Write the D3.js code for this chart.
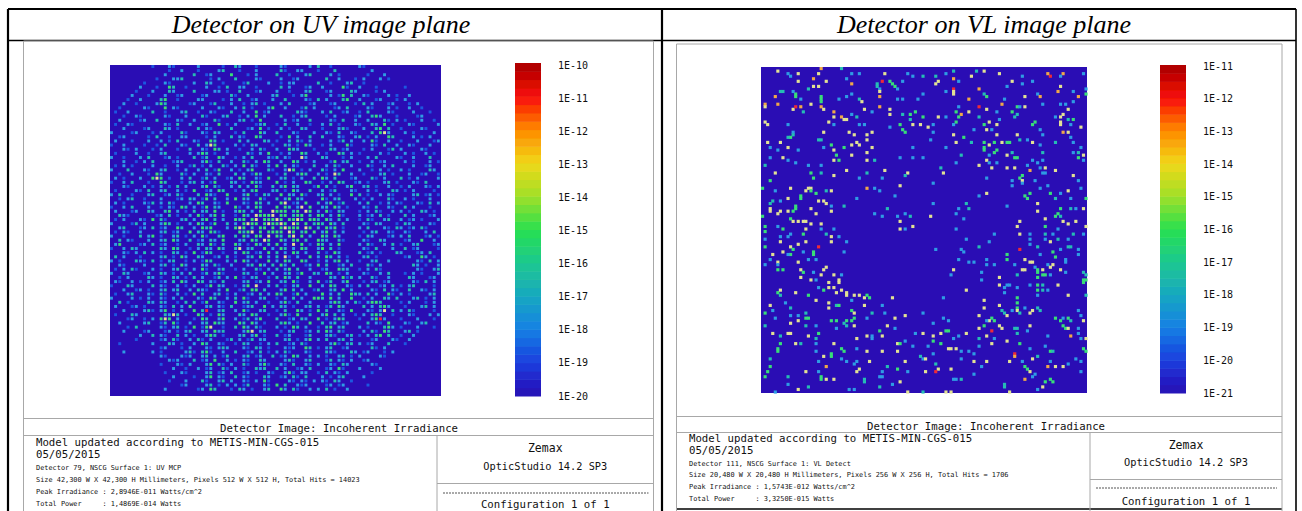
<!DOCTYPE html>
<html><head><meta charset="utf-8">
<script src="https://cdn.jsdelivr.net/npm/d3@7/dist/d3.min.js"></script>
<style>html,body{margin:0;padding:0;background:#fff}svg{display:block}</style></head>
<body><svg id="c" width="1302" height="511"></svg>
<script>
const panelTitles = ["Detector on UV image plane", "Detector on VL image plane"];
const uvTicks = ["1E-10","1E-11","1E-12","1E-13","1E-14","1E-15","1E-16","1E-17","1E-18","1E-19","1E-20"];
const vlTicks = ["1E-11","1E-12","1E-13","1E-14","1E-15","1E-16","1E-17","1E-18","1E-19","1E-20","1E-21"];
const uvFooter = ["Detector 79, NSCG Surface 1: UV MCP","Size 42,300 W X 42,300 H Millimeters, Pixels 512 W X 512 H, Total Hits = 14023","Peak Irradiance : 2,8946E-011 Watts/cm^2","Total Power     : 1,4869E-014 Watts"];
const vlFooter = ["Detector 111, NSCG Surface 1: VL Detect","Size 20,480 W X 20,480 H Millimeters, Pixels 256 W X 256 H, Total Hits = 1706","Peak Irradiance : 1,5743E-012 Watts/cm^2","Total Power     : 3,3250E-015 Watts"];
// colour of each class of hit
const levelColor = {b:"#1f58e0",c:"#2f9ce4",t:"#26bdb4",g:"#38de78",y:"#e2e294",o:"#f0a848",r:"#ee2c38"};
const rampStops = [0,.1,.2,.3,.4,.5,.6,.7,.8,.9,1];
const rampColors = ["#2a0cb4","#1a3ede","#1680e4","#18a8c0","#1cc890","#28e050","#a0e028","#f0d818","#ff8a00","#f81008","#a80000"];
// VL detector: hits estimated bin by bin on a 128 x 128 reading grid (col,row,class)
const vlTopLeft = "6,1,y 10,2,c 11,3,c 14,2,y 14,5,y 23,0,o 31,0,t 33,4,c 35,2,c 38,2,c 20,4,o 25,5,y 22,2,y 35,6,o 47,5,r 48,2,y 45,6,t 45,7,t 46,8,c 50,5,g 51,6,g 52,7,g 55,5,c 53,8,c 57,2,c 59,3,c 63,3,t 63,10,c 18,8,t 20,7,y 22,7,y 7,9,t 8,9,t 5,11,o 13,11,g 13,10,g 12,9,c 23,11,g 23,12,g 23,13,g 15,12,c 1,14,o 1,15,y 6,14,o 12,16,y 13,15,r 15,15,o 16,17,t 19,14,y 23,15,o 24,16,y 30,12,c 33,11,c 35,10,c 38,12,t 39,13,y 46,9,y 46,11,o 46,15,o 40,16,y 43,17,c 50,16,y 50,18,y 53,12,c 55,12,c 61,12,c 28,17,o 28,19,y 26,21,y 31,19,o 32,20,y 33,20,y 35,18,c 37,19,t 28,22,c 38,22,c 40,22,c 10,22,c 1,21,y 2,22,y 55,18,t 58,18,g 60,17,g 63,19,g 58,20,t 62,22,y 54,22,g 55,24,g 56,25,g 50,23,c 59,22,y 12,25,c 11,27,g 10,27,t 12,26,t 24,25,y 34,25,y 36,26,y 41,26,y 43,25,y 2,29,y 7,29,y 22,28,t 23,28,t 27,30,g 32,31,g 35,30,y 37,29,y 38,30,y 41,28,y 24,31,c 43,31,y 3,31,c 6,32,c 10,31,y 14,32,c 28,32,y 41,33,y 59,31,c 35,34,y 29,34,g 30,36,g 28,36,y 3,35,c 8,35,y 10,36,c 13,37,c 41,36,y 44,36,t 54,35,c 59,35,c 63,35,c 18,38,c 23,38,c 1,38,t 5,41,y 19,41,g 20,43,g 23,41,t 28,42,y 33,40,y 41,41,t 48,40,y 57,41,y 56,42,t 3,44,g 38,43,c 47,43,c 0,47,g 18,47,y 19,47,y 17,48,y 19,48,g 21,49,g 15,50,g 15,51,g 11,47,y 5,48,c 25,48,t 27,48,y 41,47,o 44,47,c 46,48,c 54,46,y 52,50,c 10,51,y 37,51,c 22,52,y 24,52,y 25,53,y 4,52,t 7,52,c 3,53,t 3,55,y 3,56,y 6,57,y 7,56,y 13,54,g 13,55,g 12,56,g 10,56,y 19,55,y 27,54,c 27,56,y 32,54,t 49,55,t 44,57,c 47,58,c 21,57,y 11,59,g 14,60,y 16,60,y 17,60,y 19,61,y 12,60,y 0,58,g 23,61,y 1,62,g 6,62,c 8,63,g 23,63,c 28,63,c 17,63,y 53,58,c 56,57,c 58,58,t 54,60,y 59,62,y 56,63,c 54,63,y";
const vlTopRight = "68,3,t 69,5,y 68,6,y 72,2,c 75,1,t 84,1,t 87,1,y 82,3,y 75,4,o 77,5,c 75,8,r 75,9,y 75,10,y 72,9,c 81,12,o 85,8,o 87,10,t 88,11,g 93,2,y 98,5,y 102,3,c 96,7,c 106,5,c 102,6,c 113,3,r 112,2,o 118,2,o 117,3,c 117,7,y 116,9,o 126,2,c 122,9,c 124,11,o 127,10,g 127,8,c 108,10,c 109,11,o 103,11,y 95,12,c 110,14,c 85,15,r 94,14,o 77,15,c 76,17,g 78,18,o 81,17,y 77,19,g 76,21,g 75,22,c 100,15,g 101,15,c 103,15,y 98,17,g 100,18,t 92,17,c 88,16,y 85,19,t 69,19,y 72,19,c 67,22,c 65,23,y 67,25,c 66,28,c 75,26,y 79,27,g 82,29,t 76,29,y 72,31,c 78,34,t 87,22,g 89,21,y 92,22,y 88,24,y 90,24,c 83,24,c 92,26,y 99,19,t 93,20,c 100,26,y 106,22,g 107,21,g 109,24,c 110,26,c 87,29,g 87,31,g 87,32,g 91,29,g 89,30,y 94,29,y 96,29,g 97,29,g 101,28,t 104,28,c 106,29,y 109,30,c 92,32,g 91,33,g 96,34,y 98,33,t 99,35,g 100,35,g 89,34,c 88,36,y 89,37,c 92,37,c 90,39,y 85,38,y 76,37,c 104,38,c 106,36,c 108,37,c 110,36,c 110,33,t 115,29,t 96,39,y 99,39,y 105,40,o 109,39,c 111,39,y 110,41,c 111,41,c 102,42,g 101,43,g 102,44,y 98,44,c 102,45,c 98,46,c 88,43,c 115,40,y 122,42,y 124,44,c 70,39,t 71,41,y 67,45,c 88,49,y 85,50,c 103,50,g 105,49,g 104,51,g 113,49,g 115,51,t 112,46,c 107,44,c 109,47,c 120,48,y 125,47,c 117,49,c 127,51,g 108,53,y 121,51,c 96,54,c 80,53,t 77,55,c 81,55,t 108,56,y 67,53,c 66,58,y 76,57,c 79,59,c 117,55,g 116,57,g 115,58,g 117,58,t 118,60,y 121,55,t 123,55,c 126,55,y 123,60,y 111,59,y 101,60,y 100,62,y 120,61,y 111,62,g 116,63,c 127,62,y 76,63,c 118,18,y 117,19,y 117,21,y 117,22,y 118,25,o 120,25,y 120,20,t 122,20,g 120,16,y 122,13,c 119,14,c 117,14,c 115,19,c 121,22,c 125,23,y 121,27,c 125,31,c 124,33,t 122,33,c 126,34,y 124,35,g 126,36,c 122,29,c";
const vlBottomLeft = "1,64,g 1,67,c 1,70,g 7,68,y 7,66,c 10,66,c 11,65,c 16,65,g 11,70,y 14,69,y 12,71,g 11,73,g 8,72,y 10,73,c 4,73,y 17,68,y 22,70,r 20,72,g 20,73,g 16,72,c 25,65,t 27,66,y 27,68,y 30,66,c 33,68,c 32,72,c 14,76,y 18,75,c 21,75,c 3,75,c 6,76,y 6,77,c 1,77,c 6,79,g 8,79,g 15,79,y 16,80,g 15,82,y 20,80,c 23,81,y 24,79,y 25,78,y 19,83,y 21,83,c 28,81,y 31,81,c 30,83,y 30,84,y 26,84,y 24,87,g 26,86,y 28,86,y 22,86,c 29,88,y 31,87,y 33,88,y 33,89,y 6,88,g 7,87,y 7,89,t 13,88,y 18,89,g 21,91,y 35,91,c 36,89,y 38,89,y 40,90,y 41,89,g 42,90,g 40,93,y 51,90,y 3,93,y 9,92,c 11,94,t 26,92,y 26,94,y 29,93,t 30,93,g 1,96,g 4,95,c 17,96,t 35,95,g 36,96,y 43,96,t 41,98,c 48,96,c 47,93,c 56,97,y 63,96,c 11,97,c 14,97,c 14,99,y 17,98,g 18,98,g 5,98,c 27,99,g 29,99,g 33,99,g 35,99,g 36,98,g 32,100,t 33,101,t 36,101,y 52,98,y 49,101,y 1,101,t 11,100,y 17,101,t 21,101,c 29,102,c 4,104,y 10,104,y 11,104,y 7,105,t 18,105,y 22,104,g 21,106,t 37,106,y 41,105,y 43,105,c 43,106,c 47,105,y 46,103,g 52,102,c 60,104,c 63,104,y 7,108,g 6,110,g 6,111,g 13,108,y 15,108,t 21,108,c 28,108,y 53,108,y 54,108,g 56,107,c 59,109,c 53,111,y 31,110,g 32,111,g 21,111,c 37,110,c 41,111,y 47,111,y 62,113,t 63,114,c 24,113,y 27,112,g 27,113,g 3,114,t 22,115,c 31,114,c 33,115,c 37,115,c 42,115,y 36,116,c 25,117,o 49,117,t 53,118,g 56,115,y 3,117,g 2,119,g 17,119,y 22,119,c 37,119,y 38,118,y 47,119,c 57,119,c 1,121,g 10,121,t 23,121,g 23,122,g 25,122,y 28,122,y 40,122,t 40,123,t 46,121,c 47,121,c 54,123,y 10,124,c 51,124,c 46,125,t 18,125,t 14,126,y 34,126,c 36,126,c 5,127,c 57,127,y 63,127,t";
const vlBottomRight = "80,67,c 91,65,c 101,65,y 105,65,c 105,67,c 111,65,t 114,65,c 111,67,c 116,67,t 122,65,t 120,67,c 126,65,c 113,68,y 85,70,t 89,68,c 101,71,r 108,70,t 105,69,c 120,70,t 121,70,t 68,71,c 78,71,c 79,72,c 114,72,g 115,74,g 117,71,c 124,71,c 109,73,c 124,73,c 96,73,g 96,75,g 77,75,c 103,75,y 81,76,c 83,76,c 88,75,c 106,76,y 105,76,y 119,75,c 119,76,c 114,77,y 112,77,c 88,77,c 91,77,c 99,77,c 107,78,c 113,78,y 75,79,y 74,81,c 86,80,c 102,79,y 103,79,y 100,81,t 108,79,g 108,80,g 110,79,y 117,79,y 119,80,c 126,80,t 127,81,t 86,83,c 93,82,y 108,82,g 110,81,g 111,81,g 113,81,c 126,83,g 127,83,g 126,84,g 93,85,y 96,85,c 97,85,c 100,86,c 105,85,c 108,85,g 108,87,g 110,85,t 110,87,t 116,85,y 95,86,c 80,87,y 95,88,c 112,87,c 108,89,c 120,89,y 127,89,t 71,90,c 87,91,y 100,90,g 93,93,y 100,92,g 100,94,g 103,94,c 108,94,t 87,94,y 94,95,t 95,96,t 96,97,y 98,95,c 100,95,y 101,96,t 105,96,y 106,95,y 109,95,t 85,97,y 124,95,c 125,97,c 71,98,c 73,99,c 67,100,c 90,98,g 91,99,g 89,99,y 87,101,g 88,99,c 93,101,y 94,102,y 90,103,r 85,102,y 99,102,t 100,102,t 100,104,t 104,103,c 105,101,y 115,98,g 117,99,g 118,101,g 119,102,g 118,98,c 120,98,g 121,99,t 120,102,y 126,99,y 124,102,c 124,104,c 73,103,g 72,103,g 70,104,y 67,105,y 67,107,g 75,106,c 77,105,c 80,104,y 85,106,t 88,105,y 91,106,c 96,107,y 101,108,g 90,108,y 121,105,o 125,106,c 127,106,y 70,108,g 65,109,c 85,109,c 111,109,c 112,105,c 73,110,y 74,110,y 76,110,y 78,111,c 81,111,c 67,112,c 83,112,c 105,110,c 113,111,g 114,111,t 126,110,g 127,111,g 99,112,r 99,113,o 78,114,c 83,115,y 88,115,y 64,114,y 97,115,y 102,115,c 106,114,y 108,113,t 113,115,c 123,114,c 125,115,c 68,116,t 69,118,y 74,118,y 68,119,r 64,119,y 86,117,c 83,120,c 103,117,g 104,118,g 112,117,o 115,117,y 118,117,y 120,116,c 125,119,c 105,119,y 75,122,c 76,122,c 78,122,t 103,122,o 106,121,c 107,120,c 113,122,g 114,123,g 111,123,g 110,125,y 95,124,t 95,125,t 108,126,c 72,127,y 74,127,y 97,127,y";
// UV detector: too dense to read hit by hit, so each symbol is one estimated cell of an 80 x 80 reading grid
const uvGrid = [
"......... .b...cb... ..c.....b. .tc...b... ..cb.....c .t..b..... .cb....... ..........",
".......... ....b..c.. .b....ct.. .b...c.... .tb..cc... b...t..... ...c...... ..........",
".......... ...c...... t..bc....g ...b.c.... t..b...ct. ...c.b.... ..b...c... ..........",
".......... .b...cct.. ....b.c... t....cb... .c..bc.... ..t..c...b .c...c.b.. ..........",
"........b. ...cb.....c ..tc..b... .bt....c.. b.cc.....t ..b...ct.. b......... ..........",
".......c.. .b..gt..b. ...c..b.t. .cc..b.... .t.c...bc. .c....gb.. c...b..... .b........",
"......b... c...tc.... t....cc.b. .t...bc... c..b...ct. ..bc....tc ....b.c... ..........",
".....c...b ...c..bc.. ..bc.....t b..c.....c t...b.cg.. ...c.bg.t. .cb....c.b ..c.......",
"....b..c.. ..tg..b... .cc....b.c .t..bc...c ..t....cb. t.c...tg.. c...bc...b .c........",
"...c..b... .cgt.....b c...bt...c ..b.ct.b.. .c.t....bc ...bc....b .t.c...bc. ..b.c.....",
"..b.....cb ...g.cb... ..c...cb.. c.t.b...cg ..c...bt.c ....bc.t.. ..cb...c.b ..c..b....",
".b..c..... t..b...ct. .b..cb...t ..c..g.bc. .....tcb.. .c.t..bc.. b.t....cb. ...c...b..",
"...b..cb.. ...cb...c. ..tb...ct. .b.c.g.c.. .t..b.ct.. ..b.c....b c..tgc...b ....bc....",
"..c....bc. .t....cb.. c....tb... .ct.b.g... ..c.bc..t. ...cb.t..c ..c...tb.c .b...c..b.",
".b..cb.... ...cb.t..c ..bc..g.b. c....bct.. b.t..c..b. .c.t.b...c b..tc.g.b. ..cb.....c",
"...c....bc ...tc.b... .t.cb....t ...bc.g.b. .c.b..tc.. .b...ctb.. .c..tg.t.. b....cb...",
"c....bc... b.c....tb. ..cb.tc... b.t...gc.. t...cb...c ..cb.t..cb ...t.gyc.. .c.b....c.",
"..bc.....b .t..b..cc. ...b.c...t .cb..gt... .b.g.c..t. .t...cb..c t.b.c..gt. ...c.b.c..",
".c...b...c ..c.b.t... cb..gt.b.. .t.c...tc. b..c.tb.c. ...c.bt.c. .c.gb..c.. b...c...bc",
"b..c....b. .b.t...cb. .t.cyg.... c.b.tc...b ..tc.b.gc. .b.c...gb. ...cb.t..c ..cb...c..",
"...cb.c... b.c...b..t ..cb.gt.c. .b..c.tb.. c..gtc...b ...tc.bc.. .b.c...bt. c....cb...",
".b....c..b ..ct.....c .cgt.b..c. ...tb.c.g. .b.c..gt.. c.b..gt.c. b....c.b.. .c.b..c.b.",
"c..b...c.t ...bc.b... t.bt..gc.. b.c.t...cb t.cb..yc.. .tc...b.c. ..c.t....c b..c...t..",
"...c..b.c. t....bct.. ..cgb.t..c ..tb.c.gt. .c..gt.b.c ...bg.ct.. b..c.bc... .c.b...c.b",
".b.c.b.... c..b..c..b t.b.c..tb. c.g.tb..c. g.t.cb...t ..c.tb..c. ..tb..c.t. ...c..bc..",
"c...t...cb ..ct..b.c. .c.t.bg..c .b.cg...tb ..cyg.b.c. .tb.c.g... c..b.c.b.. c.b....tc.",
"..b..c...b .gc....tb. c..cb.t... t.c.bgc... b.t..cgt.. c.b.yt..c. .b...ct.b. ..c..bc..b",
".c.b...c.. gyg.b..c.t ..bt.c..bc .gt..cb.g. .ct.b.c..t .gc.t...bc ...tb.c... t.b.c....c",
"b..c.t...b ..gt...b.c t.c.bg...t c.b.gtc... g.b.c..gt. .b.c.gt..b c.b...ct.b ...cb.t...",
"...cb...c. b.c.b.t.c. ..cg.tb..c .t.c.gb..t .cg.tc...b g.t.b..cg. .ct.b..c.. b.c...cb.c",
".b....cb.t ..ct..c.b. g..bc.gt.. b.c.tg...c t.b.gc..t. .c.bt...cb ..c.b...tc .b.c....b.",
"c.t..b...c t..bc.tb.. .t.gcb..g. ..cg.b.tc. .g.tc.gb.. ct.c.b..g. t.b..c.cb. ...ct.bc.b",
"..b.ct..b. ..c...bc.t c.bg.t..c. g.tc..gb.. t.cg.tc... .gb.ct...c .b.c...tb. .c.b...c..",
".c.b....cb t.c.tb...c .gt..cb.g. ..cb.gt.c. .gy.bc.g.. t.cg.bt... c.t..b.c.c b...cb.t.c",
"b..c.t...c ..b.cb.gt. c.bg.tc... gb.c.gt... g.gt.cy.g. .ct.gc.b.. .cb.t..cb. .t.c...b..",
".c...bc..t c..tg.c.b. t.ct.g.b.. cgt.c.g..y ggg.tg.yg. c.gb.tc... b.c.tb..c. c.b..tc.b.",
"..tcb..... .bc.t.b..c .gb.cg.t.. b.gc.ygggy .gg.tgg.t. gt.c.gb... c.bc.t.b.. .t.c...bc.",
".b.c...cb. g.tb...ct. c.tg.t.c.. gtg.gy.ggg yg.ggyg.gg t.gc.t.c.. b.tb..ct.. c.bc.b...c",
"c....bt.c. ..cgt.b..c .gc.bg..t. c.gygg.gyg gyg.yg.g.t gt.gc.t... .cb.tc...b .tc....cb.",
"..ct...bc. t.bc..gt.. c.gtg...c. gyg.t.gg.g .gyggg.yg. t.gcg.b... c.t...cb.t c.bc.tb...",
".b.cb..c.. ..ct.bc..g .tc.gtb... .gtgy.g.gg gg.yg.tg.g .cg.t.c... .b.ct..cb. .cb...c.t.",
"c..b...t.c g.b..ct.b. c.gb..tg.. t.gc.gg.y. gt.gy.g.c. .gt.gc.... b.tc...bc. c.t...bc.b",
"..t.cb...c ..ct.gc..t .bc.tc.g.. .ct.gt.yg. .gc.gg.t.. gtc..tb... .cb..tc... .bc..g..c.",
".cg....bc. t.bc..b.c. .tc.gb.t.. gc.b.gc.t. g.c.y.g.b. gt.c.g.... c.tb..c.t. b..ct...bc",
"b..c.tc... ..tc.gt..b .c.tc.gc.. ty.ct..g.c .gt.c.gt.. cg.t.b.... .cb.t...c. .t.bc....b",
"...cb.c.t. c.b..tc.b. g.bgt..b.. c.gt.bc.g. t.c.gt.c.. t.b.gc.... t.bc.b...t c...bc.t..",
".t.c...b.. ..ct.b.gc. .tc..bc.t. b..ct.g.c. t.yb.c..g. c.gt.c.b.. .ct.b..... .bc..gc.b.",
"c.b...tcb. t.b.ct..b. c.bgt...c. t.gc.b..g. c.gt..gt.. b.c.tg.c.. b..ct..c.. ....cb.t.c",
"..cb....c. ..ct.b.gc. ..tc.tb..c ...ct.gc.t .gc.t..bc. g.t..bc.t. ..tb.c.... ...tc.b..c",
".b.c.tb... c.b..ct.b. c.gb..ct.. b.c..tb.c. t.cg.t..c. .bc..gtc.. b.c.tb.... ....cb..ct",
"c..tc...bc ..tc.b.c.t ..bt.cgb.. ..tc.b.g.c ..ct.bg..t c.gt.b.c.. .cb..c.t.. .b.c.b...c",
"..b.c....t c.b..tc.b. t.c..bt.c. g.b.ct..b. t.gc.t..c. ...tc.gbt. c..tb..c.. ..tc...bc.",
".cb..c.b.c ..bc.t.gc. .gt.cb.t.. ..ct.bc.g. .ct.gb..c. g.bt..cg.. .b.ct.bc.. ...cb.t.c.",
"b...tc.... t.cb..c.b. c..bg.tc.. b.cg.y..c. t.b.ct..g. .c.gt..cb. c.t..bc.t. b.ct....b.",
"...c..bc.b ..ct.ct..c .tcb..c.g. .bt.gg.t.. .cg.t.c..b t..ct.g.c. ...cb.t.cb ..t..cb.c.",
".b..ct...c b.tb..c.b. g.t..ct.b. c..bc.t.c. gt..bg.c.. .g.c.t..gt c.t.c..gb. c.b....ct.",
"c....c.b.c ..cb.c.t.. .cb.gt..c. t.gb..ct.. b.c.t.c..g gt.g.c..g. .b.c..tc.t ...ct.b.c.",
"..t.b....t c.tc..b.t. t.bg..cb.. g.ct.c..b. .cgb.t..c. ...cgt.c.t b.cggt.... b.c...b.c.",
".c...bc.b. ..cb.t.c.g ...ct.cb.t ..bct..g.c .tc.b..ct. c.bt.gc... .t.c.tgc.. .b...ct.c.",
"...c....ct b.cg.b.c.. g.tr..ct.. c.gb..ct.. b.t..gc.b. g.t..cb.g. ..cb.cy.t. c.tb....b.",
".b...tc... ...tcyt.b. .gc.b.gc.. .tc.gt..b. .cgb.g..t. .cg.t.c..b .c.tgt..b. ..cb...c.c",
"....bc..b. c.gyg.c... b.gt..cg.. c.bt.cg... t..bc.tc.. g.b.cgt... b..cgrc... b...c...b.",
"..c.....ct ..bt.gb..c ..ct.gtc.. .gt.gc.b.. .tgc.b..g. .t.ct.bc.. ..t.cb.g.. .cb..ct...",
"....b.t... ..cb.ct.b. g.bgy..b.. t.gc.tb... c.b.gt.c.. b.tg.ct... c.b...tgc. b...c...b.",
"...c....bc ...bc.b.ct ..ct.gct.. ..cgy.ct.. .b.ct..bc. t.gc.tb... .c.tb.gt.. .ct.b.....",
".......c.. t.cb..t.c. b..cgt.b.. .ct.cg.b.. t.bc...bt. ..ctb..ct. b.c.tg.t.. b..c......",
"......b... ..bc.tb..c .tb.c...bt .c.bt.cc.. ..ct.b.cg. c.t..ct.c. ...bc...cb ..c.......",
"..b....... c...tc.b.. c.gt..cb.. b.tc..b.c. t..bc.tb.. ...cgb.ct. c.bc...t.. .b........",
".......... ..bc...b.c ...cb.ctc. ..cb.tc.b. ..cbc..gt. b.ct..bc.. ...tb.c... ..........",
"...c...... c.b.....ct b.tgb..c.. t..bc.t.b. c.tb...cb. ..tcb...tc .bc...b.c. ..........",
".......... ..cb...cbc ..ct.c.bt. ..ct.bc..t .bc.gt..c. c.b..ct.b. c....cb... ..........",
".......... ....cbc... t.bc.g..c. b.cb..tc.. ..ctb..ct. ..bt.cb.c. .bc....... ..........",
".......... ..b...cb.c ...cg.tb.c ..tb..cgb. .cb.t..cb. c..cb.tc.. ...cb..... ..........",
".......... .....c..b. .c.bc..tb. c.b..tct.. t.c..bc.t. ..bc.gb... c....c.... ..........",
".......... ...b...cb. ...ct.bc.t ..bc.b..cb ..cgb.cc.. b.t.cb.c.. ...b...... ..........",
".......... .....c.... b..cg.cb.. t.cb...tc. .bc.tb.t.. .c.b.ct... .c........ ..........",
".......... ....b...c. ..tb..ct.c ..cb.c.gb. ...cb.cb.c .cb.tc..b. .......... ..........",
".......... .......bc. ...ct.b.c. c.bt...cb. g.t..cbc.. ..bc.bc... ..b....... ..........",
".......... ...c...... .bc.gt...b .tc.b..ct. .gc.tb..c. c.t.b..c.. .......... .........."
];

const svg = d3.select("#c");
const blue = rampColors[0];
const ramp = d3.scaleLinear().domain(rampStops).range(rampColors).clamp(true);
const defs = svg.append("defs");
defs.append("filter").attr("id","soft").attr("x","-5%").attr("y","-5%").attr("width","110%").attr("height","110%")
  .append("feGaussianBlur").attr("stdDeviation",0.55);
defs.append("filter").attr("id","softUV").attr("x","-5%").attr("y","-5%").attr("width","110%").attr("height","110%")
  .append("feGaussianBlur").attr("stdDeviation",0.7);
defs.append("filter").attr("id","softText").append("feGaussianBlur").attr("stdDeviation",0.25);

// table rules
const rules = [[8,9,1296,9,2.2],[8,40.5,1296,40.5,1.6],[8,9,8,511,2.2],[662,9,662,511,2.2],[1296,9,1296,511,1.6],[676,509,1282,509,1.6]];
svg.append("g").selectAll("line").data(rules).join("line")
  .attr("x1",d=>d[0]).attr("y1",d=>d[1]).attr("x2",d=>d[2]).attr("y2",d=>d[3]).attr("stroke","#000").attr("stroke-width",d=>d[4]);
svg.append("g").selectAll("text").data(panelTitles).join("text")
  .attr("x",(d,i)=>[321,984][i]).attr("y",33).attr("text-anchor","middle")
  .attr("font-family","Liberation Serif").attr("font-style","italic").attr("font-size",26).attr("fill","#000").text(d=>d);

function drawPanel(o){
  const g = svg.append("g");
  const gray = "#a8a8a8";
  const frame = [[o.l,o.t,o.r,o.t],[o.l,o.t,o.l,511],[o.r,o.t,o.r,511],[o.l,o.y1,o.r,o.y1],[o.l,o.y2,o.r,o.y2],[o.split,o.y2,o.split,511],[o.split,o.y3,o.r,o.y3]];
  g.selectAll("line.f").data(frame).join("line").attr("class","f")
    .attr("x1",d=>d[0]).attr("y1",d=>d[1]).attr("x2",d=>d[2]).attr("y2",d=>d[3]).attr("stroke",gray).attr("stroke-width",1);
  const by = d3.scaleLinear().domain([0,1]).range([o.barB,o.barT]);
  const bands = d3.range(0,1,1/40);
  g.append("g").attr("filter","url(#softText)").selectAll("rect").data(bands).join("rect")
    .attr("x",o.barX).attr("width",o.barW).attr("y",d=>by(d+1/40)).attr("height",d=>by(d)-by(d+1/40)+.5).attr("fill",d=>ramp(d+1/80));
  const ty = d3.scalePoint().domain(o.ticks).range([o.tickT,o.tickB]);
  g.append("g").selectAll("text").data(o.ticks).join("text")
    .attr("x",o.barX+43).attr("y",d=>ty(d)+3.5).attr("font-family","DejaVu Sans Mono").attr("font-size",10).attr("fill","#111").text(d=>d);
  const mono = "DejaVu Sans Mono";
  g.append("text").attr("x",o.titleX).attr("y",o.y1+13).attr("text-anchor","middle").attr("font-family",mono).attr("font-size",10.7).attr("fill","#111").text("Detector Image: Incoherent Irradiance");
  g.append("text").attr("x",o.textX).attr("y",o.rows[0]).attr("font-family",mono).attr("font-size",10.7).attr("fill","#111").text("Model updated according to METIS-MIN-CGS-015");
  g.append("text").attr("x",o.textX).attr("y",o.rows[1]).attr("font-family",mono).attr("font-size",10.7).attr("fill","#111").text("05/05/2015");
  g.append("g").selectAll("text").data(o.footer).join("text").attr("x",o.textX).attr("y",(d,i)=>o.rows[i+2])
    .attr("font-family",mono).attr("font-size",6.9).style("white-space","pre").attr("fill","#111").text(d=>d);
  const cx = (o.split+o.r)/2;
  const right = [["Zemax",o.boxY[0],11.5],["OpticStudio 14.2 SP3",o.boxY[1],10.3],["Configuration 1 of 1",o.boxY[3],10.7]];
  g.append("g").selectAll("text").data(right).join("text").attr("x",cx).attr("y",d=>d[1]).attr("text-anchor","middle")
    .attr("font-family",mono).attr("font-size",d=>d[2]).attr("fill","#111").text(d=>d[0]);
  g.append("line").attr("x1",o.split+6).attr("x2",o.r-5).attr("y1",o.boxY[2]).attr("y2",o.boxY[2]).attr("stroke","#555").attr("stroke-width",1).attr("stroke-dasharray","2 1");
  return g;
}

drawPanel({l:23.5,r:653.5,t:41,y1:418.5,y2:435.5,y3:483.5,split:437,barX:515,barW:26,barT:63,barB:396,ticks:uvTicks,tickT:65,tickB:396,titleX:339,textX:36,
  rows:[446,458,470,482,494,506],footer:uvFooter,boxY:[452,470,493,507.5]});
drawPanel({l:676.5,r:1282,t:44,y1:416.5,y2:432.5,y3:479.5,split:1090,barX:1160,barW:26,barT:65,barB:393,ticks:vlTicks,tickT:66,tickB:393,titleX:986,textX:689,
  rows:[442,454,466,477,489,501],footer:vlFooter,boxY:[449,466,488,505]});

// UV plot
const uvN = 80, uvX = d3.scaleLinear().domain([0,uvN]).range([110,441]), uvY = d3.scaleLinear().domain([0,uvN]).range([65,396]);
const uvCells = uvGrid.flatMap((s,row)=>Array.from(s.replace(/ /g,"")).slice(0,uvN).map((ch,col)=>({col,row,ch}))).filter(d=>d.ch!==".");
const ug = svg.append("g").attr("filter","url(#softUV)");
ug.append("rect").attr("x",uvX(0)).attr("y",uvY(0)).attr("width",uvX(uvN)-uvX(0)).attr("height",uvY(uvN)-uvY(0)).attr("fill",blue);
ug.selectAll("rect.c").data(uvCells).join("rect").attr("class","c")
  .attr("x",d=>uvX(d.col)).attr("y",d=>uvY(d.row)).attr("width",uvX(1)-uvX(0)-1.2).attr("height",uvY(1)-uvY(0)-1.2)
  .attr("fill",d=>levelColor[d.ch]);

// VL plot
const vlN = 128, vlX = d3.scaleLinear().domain([0,vlN]).range([761,1087]), vlY = d3.scaleLinear().domain([0,vlN]).range([67,393]);
const vlHits = [vlTopLeft,vlTopRight,vlBottomLeft,vlBottomRight].flatMap(s=>s.split(" ").map(p=>{const a=p.split(",");return {col:+a[0],row:+a[1],ch:a[2]};}));
const vg = svg.append("g").attr("filter","url(#soft)");
vg.append("rect").attr("x",vlX(0)).attr("y",vlY(0)).attr("width",vlX(vlN)-vlX(0)).attr("height",vlY(vlN)-vlY(0)).attr("fill",blue);
vg.selectAll("rect.c").data(vlHits).join("rect").attr("class","c")
  .attr("x",d=>vlX(d.col)).attr("y",d=>vlY(d.row)).attr("width",vlX(1)-vlX(0)+.6).attr("height",vlY(1)-vlY(0)+.6)
  .attr("fill",d=>levelColor[d.ch]);
</script></body></html>
